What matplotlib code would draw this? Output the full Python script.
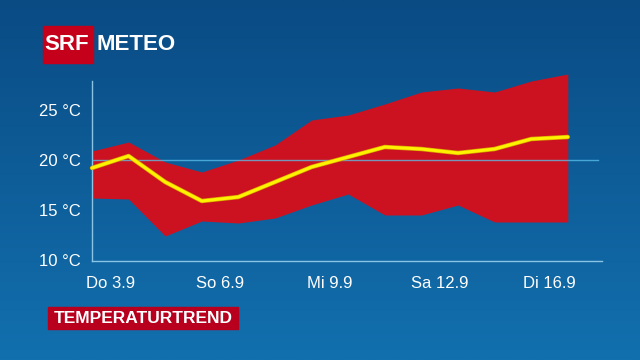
import numpy as np
import matplotlib.pyplot as plt
from matplotlib.patches import Rectangle

# daily values 3.9 - 16.9
days = ['3.9', '4.9', '5.9', '6.9', '7.9', '8.9', '9.9',
        '10.9', '11.9', '12.9', '13.9', '14.9', '15.9', '16.9']
temp_max = [20.9, 21.8, 19.8, 18.8, 20.0, 21.5, 24.0,
            24.5, 25.6, 26.8, 27.2, 26.8, 27.9, 28.6]
temp_min = [16.2, 16.1, 12.4, 13.9, 13.7, 14.2, 15.5,
            16.6, 14.5, 14.5, 15.5, 13.8, 13.8, 13.8]
temp_mean = [19.2, 20.4, 17.8, 15.9, 16.3, 17.8, 19.3,
             20.3, 21.3, 21.1, 20.7, 21.1, 22.1, 22.3]

tick_labels = ['Do 3.9', 'So 6.9', 'Mi 9.9', 'Sa 12.9', 'Di 16.9']
tick_pos = [0.5, 3.5, 6.5, 9.5, 12.5]
y_ticks = [10, 15, 20, 25]

plt.rcParams['font.family'] = ['Liberation Sans', 'DejaVu Sans']

fig = plt.figure(figsize=(6.4, 3.6), dpi=100)

# blue gradient background
bg = fig.add_axes([0, 0, 1, 1], zorder=-10)
grad = np.linspace(0, 1, 256).reshape(-1, 1)
top = np.array([0x0a, 0x4b, 0x84]) / 255
bot = np.array([0x12, 0x70, 0xae]) / 255
img = top + grad[..., None] * (bot - top)
bg.imshow(img, aspect='auto', extent=[0, 1, 0, 1], origin='upper')
bg.axis('off')

ax = fig.add_axes([92 / 640, 1 - 261 / 360, 510 / 640, 180 / 360])
ax.set_facecolor('none')
x = np.arange(len(days))

ax.fill_between(x, temp_min, temp_max, color='#cc1221', lw=0, clip_on=False, zorder=2)
ax.axhline(20, xmax=(598 - 92) / 510, color='#5cc3ee', lw=1, alpha=0.75, zorder=3)
ax.plot(x, temp_mean, color='#d9a400', lw=3.2, clip_on=False, zorder=4, solid_capstyle='round')
ax.plot(x, temp_mean, color='#fff200', lw=2.2, clip_on=False, zorder=5, solid_capstyle='round')

ax.set_xlim(0, 510 / 36.6)
ax.set_ylim(9.9, 27.9)

ax.set_yticks(y_ticks)
ax.set_yticklabels([f'{t} °C' for t in y_ticks])
ax.set_xticks(tick_pos)
ax.set_xticklabels(tick_labels)
ax.tick_params(length=0, labelsize=12, labelcolor='white')
ax.tick_params(axis='y', pad=8)
ax.tick_params(axis='x', pad=11)

for s in ['top', 'right']:
    ax.spines[s].set_visible(False)
for s in ['left', 'bottom']:
    ax.spines[s].set_color('#8cc4e6')
    ax.spines[s].set_linewidth(1)

# SRF METEO logo
fig.patches.append(Rectangle((43 / 640, 1 - 63 / 360), 50 / 640, 37 / 360,
                             transform=fig.transFigure, color='#c4001a', zorder=5))
fig.text(67 / 640, 1 - 45 / 360, 'SRF', color='white', fontsize=16, fontweight='bold',
         ha='center', va='center', zorder=6)
fig.text(96 / 640, 1 - 45 / 360, 'METEO', color='white', fontsize=16, fontweight='bold',
         ha='left', va='center', zorder=6)

# title label
fig.patches.append(Rectangle((48 / 640, 1 - 329 / 360), 190 / 640, 22 / 360,
                             transform=fig.transFigure, color='#b8001e', zorder=5))
fig.text(143 / 640, 1 - 318.5 / 360, 'TEMPERATURTREND', color='white', fontsize=12.5,
         fontweight='bold', ha='center', va='center', zorder=6)

fig.savefig('out.png', dpi=100)
